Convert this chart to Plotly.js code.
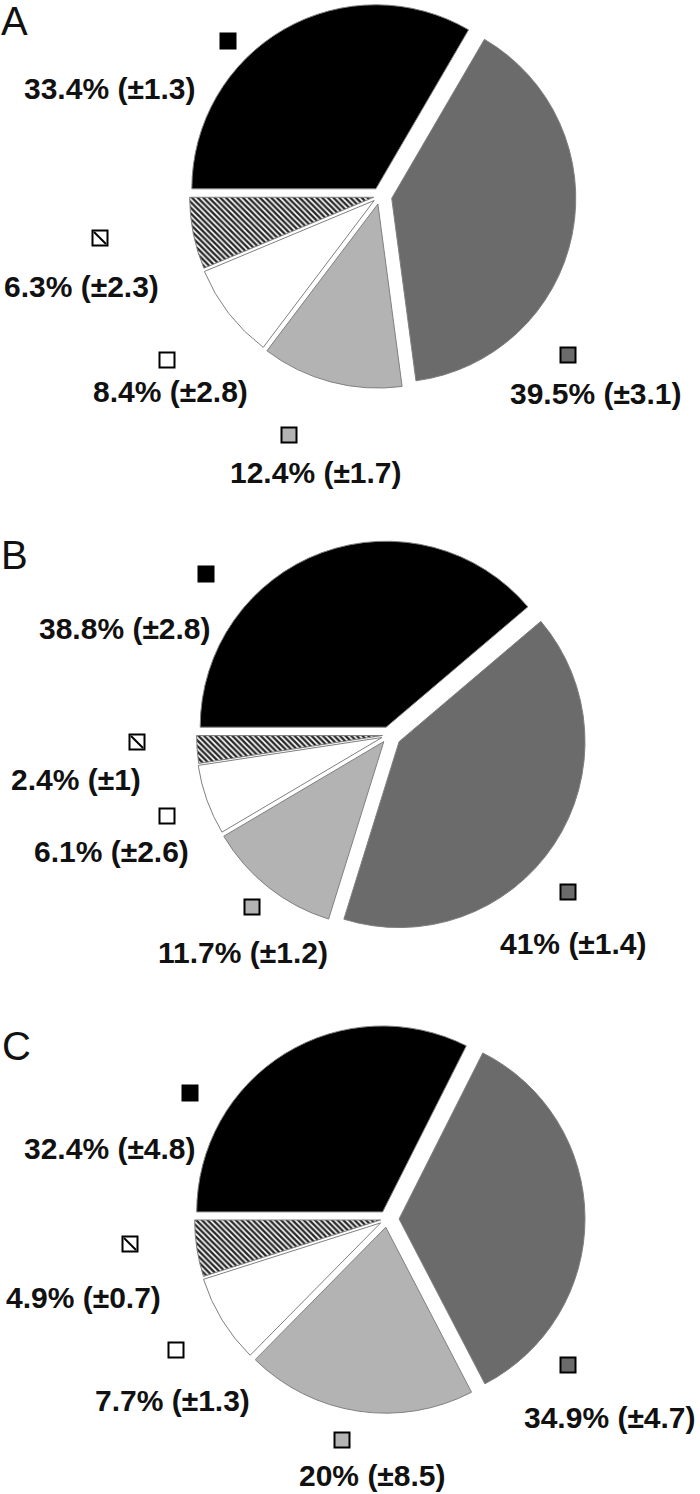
<!DOCTYPE html>
<html>
<head>
<meta charset="utf-8">
<script src="https://cdn.plot.ly/plotly-3.0.1.min.js"></script>
<style>
  body { margin: 0; background: #fff; }
  #grafico { width: 700px; height: 1494px; }
</style>
</head>
<body>
<div id="grafico"></div>
<script>
// datos (orden: negro, gris oscuro, gris claro, blanco, rayado)
const categorias = ['Negro', 'Gris oscuro', 'Gris claro', 'Blanco', 'Rayado'];
const paneles = ['A', 'B', 'C'];

const valoresA = [33.4, 39.5, 12.4, 8.4, 6.3];
const erroresA = [1.3, 3.1, 1.7, 2.8, 2.3];

const valoresB = [38.8, 41, 11.7, 6.1, 2.4];
const erroresB = [2.8, 1.4, 1.2, 2.6, 1];

const valoresC = [32.4, 34.9, 20, 7.7, 4.9];
const erroresC = [4.8, 4.7, 8.5, 1.3, 0.7];

const valores = [valoresA, valoresB, valoresC];
const errores = [erroresA, erroresB, erroresC];

// estilo
const ANCHO = 700;
const ALTO = 1494;
const colores = ['#000000', '#6b6b6b', '#b3b3b3', '#ffffff', '#ffffff'];
const tramas = ['', '', '', '', '\\'];
const separacion = [0.045, 0.065, 0.045, 0.04, 0.035];
const fuente = 'Liberation Sans, Arial, sans-serif';

// posiciones en pixeles: centro de cada torta, etiquetas, cuadritos de leyenda, letra del panel
const centros = [[380, 196], [389, 735], [387, 1219]];
const ladoCaja = 396;
const posTexto = [
    [[110, 88], [596, 393], [316, 472], [170, 391], [81, 286]],
    [[125, 628], [573, 943], [243, 952], [111, 851], [76, 779]],
    [[110, 1148], [610, 1417], [372, 1475], [172, 1400], [83, 1297]]
];
const posCuadro = [
    [[228, 41], [568, 355], [289, 435], [167, 360], [100, 238]],
    [[206, 574], [568, 892], [252, 907], [167, 816], [137, 742]],
    [[190, 1093], [568, 1365], [342, 1440], [176, 1350], [130, 1244]]
];
const posLetra = [[14, 21], [14, 555], [16, 1046]];

const trazas = [];
const anotaciones = [];

paneles.forEach((letra, p) => {
    const [cx, cy] = centros[p];
    const medioX = ladoCaja / 2;
    const medioY = Math.min(ladoCaja / 2, cy, ALTO - cy);

    trazas.push({
        type: 'pie',
        labels: categorias,
        values: valores[p],
        sort: false,
        direction: 'clockwise',
        rotation: 270,
        pull: separacion,
        textinfo: 'none',
        hoverinfo: 'label+value',
        showlegend: false,
        domain: {
            x: [(cx - medioX) / ANCHO, (cx + medioX) / ANCHO],
            y: [1 - (cy + medioY) / ALTO, 1 - (cy - medioY) / ALTO]
        },
        marker: {
            colors: colores,
            line: { color: '#808080', width: 1 },
            pattern: { shape: tramas, fgcolor: '#2a2a2a', bgcolor: '#ffffff', size: 4, solidity: 0.6 }
        }
    });

    // cuadritos de leyenda
    trazas.push({
        type: 'scatter',
        mode: 'markers',
        x: posCuadro[p].map(c => c[0]),
        y: posCuadro[p].map(c => c[1]),
        hoverinfo: 'skip',
        showlegend: false,
        marker: { symbol: 'square', size: 15, color: colores, line: { color: '#000', width: 2 } }
    });
    // raya diagonal del cuadrito rayado
    trazas.push({
        type: 'scatter',
        mode: 'markers',
        x: [posCuadro[p][4][0]],
        y: [posCuadro[p][4][1]],
        hoverinfo: 'skip',
        showlegend: false,
        marker: { symbol: 'line-nw', size: 12, line: { color: '#000', width: 2 } }
    });

    valores[p].forEach((v, i) => {
        anotaciones.push({
            x: posTexto[p][i][0],
            y: posTexto[p][i][1],
            xref: 'x', yref: 'y',
            text: `${v}% (±${errores[p][i]})`,
            showarrow: false,
            xanchor: 'center', yanchor: 'middle',
            font: { family: fuente, size: 30, weight: 'bold', color: '#111' }
        });
    });

    anotaciones.push({
        x: posLetra[p][0],
        y: posLetra[p][1],
        xref: 'x', yref: 'y',
        text: letra,
        showarrow: false,
        xanchor: 'center', yanchor: 'middle',
        font: { family: fuente, size: 40, color: '#111' }
    });
});

const layout = {
    width: ANCHO,
    height: ALTO,
    margin: { l: 0, r: 0, t: 0, b: 0 },
    paper_bgcolor: '#ffffff',
    plot_bgcolor: 'rgba(0,0,0,0)',
    showlegend: false,
    xaxis: { range: [0, ANCHO], visible: false, fixedrange: true },
    yaxis: { range: [ALTO, 0], visible: false, fixedrange: true },
    annotations: anotaciones
};

Plotly.newPlot('grafico', trazas, layout, { staticPlot: true });
</script>
</body>
</html>
